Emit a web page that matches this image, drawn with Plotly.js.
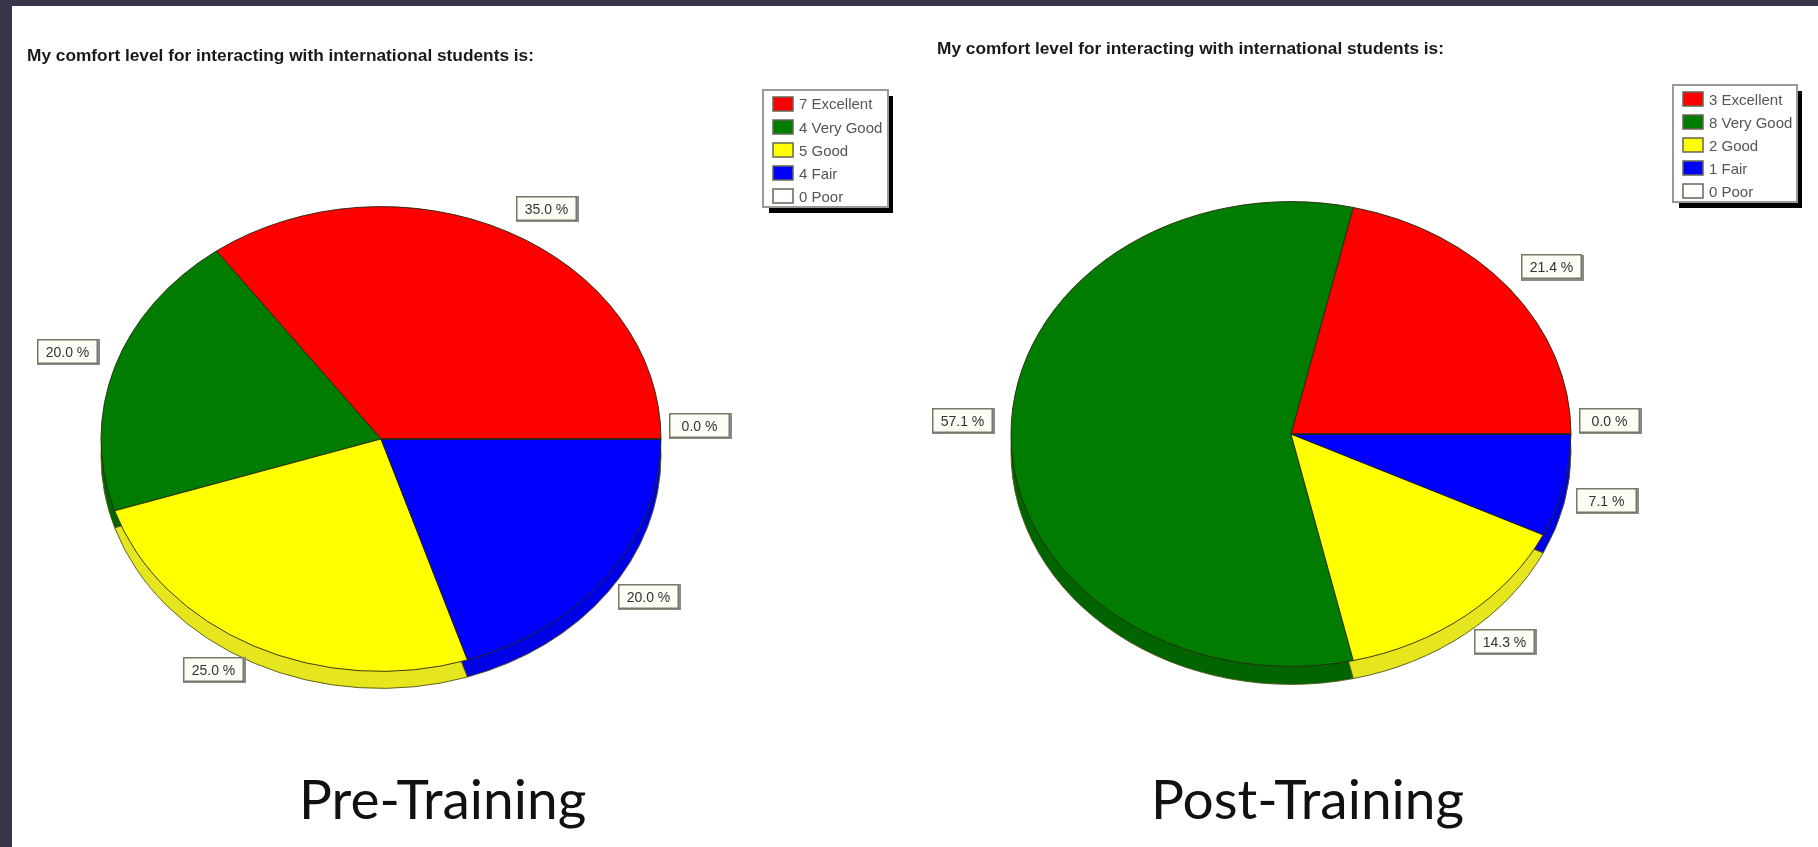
<!DOCTYPE html>
<html>
<head>
<meta charset="utf-8">
<script src="https://cdn.plot.ly/plotly-3.0.1.min.js"></script>
<style>html,body{margin:0;padding:0;background:#fff;overflow:hidden}#g{width:1818px;height:847px;filter:blur(0.5px)}</style>
</head>
<body>
<div id="g"></div>
<script>
const categories = ['Excellent', 'Very Good', 'Good', 'Fair', 'Poor'];
const preCounts = [7, 4, 5, 4, 0];
const postCounts = [3, 8, 2, 1, 0];
const topColors = ['#ff0000', '#007d00', '#ffff00', '#0000ff', '#ffffff'];
const rimColors = ['#d80000', '#006400', '#e6e61e', '#0000e6', '#eeeeee'];
const chartTitle = 'My comfort level for interacting with international students is:';
const captions = ['Pre-Training', 'Post-Training'];

const W = 1818, H = 847;
const px = x => x / W, py = y => 1 - y / H;
const panels = [
  {counts: preCounts, cx: 381, cy: 439, r: 280, k: 0.83, depth: 17, caption: captions[0], capX: 442,
   titleX: 25, titleY: 55, legend: {x0: 763, x1: 888, y0: 90, y1: 207, swatchX: 773, textX: 797, rowY: [104, 127, 150, 173, 196]},
   labels: [[546, 208], [67, 351], [213, 669], [648, 596], [699, 425]]},
  {counts: postCounts, cx: 1291, cy: 434, r: 280, k: 0.83, depth: 18, caption: captions[1], capX: 1307,
   titleX: 935, titleY: 48, legend: {x0: 1673, x1: 1797, y0: 85, y1: 202, swatchX: 1683, textX: 1707, rowY: [99, 122, 145, 168, 191]},
   labels: [[1551, 267], [962, 420], [1504, 641], [1606, 500], [1609, 420]]}
];

const data = [], shapes = [], annotations = [];
const rect = (x0, y0, x1, y1, fill, line, lw) => ({type: 'rect', xref: 'paper', yref: 'paper', layer: 'above',
  x0: px(x0), x1: px(x1), y0: py(y0), y1: py(y1), fillcolor: fill, line: {color: line || fill, width: lw === undefined ? 0 : lw}});

shapes.push(rect(0, 0, W, 6, '#38344a'));
shapes.push(rect(0, 0, 12, H, '#38344a'));

panels.forEach(p => {
  const total = p.counts.reduce((a, b) => a + b, 0);
  [[p.depth, rimColors], [0, topColors]].forEach(([dy, colors]) => {
    data.push({
      type: 'pie', values: p.counts, labels: categories, sort: false, direction: 'counterclockwise',
      rotation: 90 - 360 * p.counts[0] / total,
      textinfo: 'none', hoverinfo: 'skip', showlegend: false,
      marker: {colors: colors, line: {color: dy ? '#55551a' : '#2a2a10', width: 1}},
      domain: {x: [px(p.cx - p.r), px(p.cx + p.r)], y: [py(p.cy + dy + p.r), py(p.cy + dy - p.r)]}
    });
  });

  annotations.push({xref: 'paper', yref: 'paper', x: px(p.titleX), y: py(p.titleY), xanchor: 'left', yanchor: 'middle',
    showarrow: false, text: '<b>' + chartTitle + '</b>', font: {family: 'Liberation Sans', size: 17.3, color: '#1a1a1a'}});
  annotations.push({xref: 'paper', yref: 'paper', x: px(p.capX), y: py(798), xanchor: 'center', yanchor: 'middle',
    showarrow: false, text: p.caption, font: {family: 'Lato', size: 55, color: '#111111'}});

  p.counts.forEach((c, i) => {
    const [lx, ly] = p.labels[i];
    shapes.push(rect(lx - 30, ly - 12, lx + 33, ly + 14, '#8a8a8a'));
    annotations.push({xref: 'paper', yref: 'paper', x: px(lx), y: py(ly), xanchor: 'center', yanchor: 'middle', showarrow: false,
      width: 58, height: 22, align: 'center', valign: 'middle', bgcolor: '#fdfdf6', bordercolor: '#777766', borderwidth: 1.5, borderpad: 0,
      text: (c / total * 100).toFixed(1) + ' %', font: {family: 'Liberation Sans', size: 14, color: '#333333'}});
  });

  const L = p.legend;
  shapes.push(rect(L.x0 + 6, L.y0 + 6, L.x1 + 5, L.y1 + 6, '#000000'));
  shapes.push(rect(L.x0, L.y0, L.x1, L.y1, '#ffffff', '#999999', 2));
  categories.forEach((name, i) => {
    const y = L.rowY[i];
    shapes.push(rect(L.swatchX, y - 7, L.swatchX + 20, y + 7, topColors[i], '#666655', 1.5));
    annotations.push({xref: 'paper', yref: 'paper', x: px(L.textX), y: py(y), xanchor: 'left', yanchor: 'middle', showarrow: false,
      text: p.counts[i] + ' ' + name, font: {family: 'Liberation Sans', size: 15, color: '#555555'}});
  });
});

const layout = {width: W, height: H, margin: {l: 0, r: 0, t: 0, b: 0}, paper_bgcolor: '#ffffff', plot_bgcolor: '#ffffff',
  showlegend: false, shapes, annotations, xaxis: {visible: false}, yaxis: {visible: false}};

Plotly.newPlot('g', data, layout, {displayModeBar: false, responsive: false, staticPlot: true}).then(gd => {
  // The reference pies are tilted ellipses: flatten each pie about its own centre line.
  const groups = gd.querySelectorAll('.pielayer .trace');
  let n = 0;
  panels.forEach(p => {
    [p.depth, 0].forEach(dy => {
      const g = groups[n++];
      if (g) {
        const c = p.cy, off = c + dy;
        g.setAttribute('transform', `translate(0,${c + dy}) scale(1,${p.k}) translate(0,${-off})`);
      }
    });
  });
});
</script>
</body>
</html>
